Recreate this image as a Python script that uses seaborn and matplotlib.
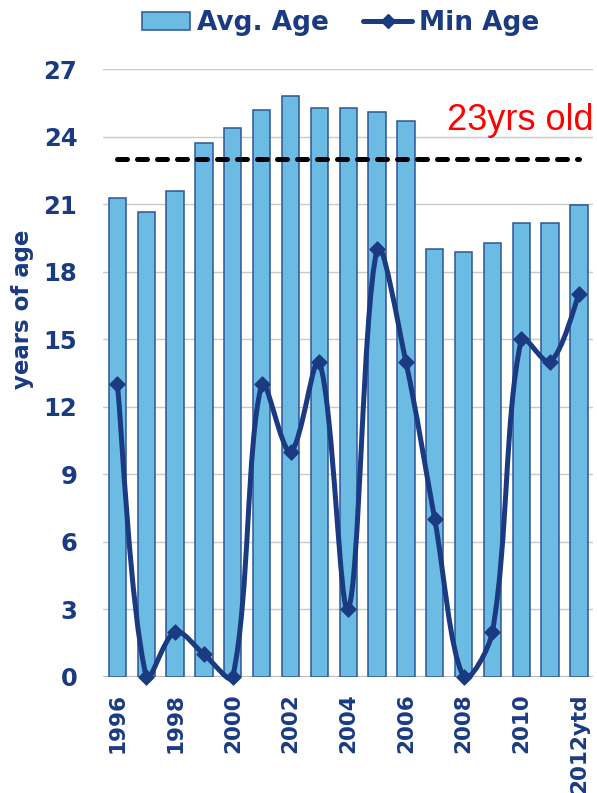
import numpy as np
import pandas as pd
import matplotlib
matplotlib.use("Agg")
import matplotlib.pyplot as plt
import seaborn as sns
from matplotlib.path import Path
from matplotlib.patches import PathPatch, Patch
from matplotlib.lines import Line2D

# ---- data ----
years = ["1996", "1997", "1998", "1999", "2000", "2001", "2002", "2003", "2004",
         "2005", "2006", "2007", "2008", "2009", "2010", "2011", "2012ytd"]
avg_age = [21.3, 20.65, 21.6, 23.75, 24.4, 25.2, 25.8, 25.3, 25.3,
           25.1, 24.7, 19.0, 18.9, 19.3, 20.15, 20.15, 20.95]
min_age = [13, 0, 2, 1, 0, 13, 10, 14, 3, 19, 14, 7, 0, 2, 15, 14, 17]
threshold = 23
threshold_label = "23yrs old"
y_ticks = [0, 3, 6, 9, 12, 15, 18, 21, 24, 27]

NAVY = "#1A3A82"
BAR = "#6CBBE3"
BAR_EDGE = "#2D5597"

sns.set_theme(style="white")
plt.rcParams["font.family"] = ["DejaVu Sans"]

fig = plt.figure(figsize=(5.97, 7.93), dpi=100)
ax = fig.add_axes([0.1725, 0.1465, 0.8215, 0.766])

df = pd.DataFrame({"year": years, "avg": avg_age, "min": min_age})

# gridlines
for t in y_ticks:
    ax.axhline(t, color="#C9C9C9" if t else "#BEBEBE", lw=1.0 if t else 1.6, zorder=0)

sns.barplot(data=df, x="year", y="avg", order=years, color=BAR, width=0.6,
            edgecolor=BAR_EDGE, linewidth=1.1, saturation=1, ax=ax, zorder=2)

ax.set_xlim(-0.5, 16.5)
ax.set_ylim(0, 27)

# threshold dashed line
ax.plot([0, 16], [threshold, threshold], color="black", lw=3.6,
        dashes=(2, 2), dash_capstyle="round", zorder=3)
ax.text(11.42, 24.3, threshold_label, color="#FF0000", fontsize=26,
        family="Liberation Sans", ha="left", va="baseline", zorder=5)

# smoothed line (Excel-like Bezier through the data points)
xs = np.arange(len(min_age), dtype=float)
ys = np.asarray(min_age, dtype=float)
n = len(xs)
P = np.column_stack([xs, ys])
S = ax.transData.transform(P)  # screen coords for segment-length weighting


def dist(a, b):
    return float(np.hypot(*(S[a] - S[b])))


verts = [tuple(P[0])]
codes = [Path.MOVETO]
for i in range(n - 1):
    i0 = max(i - 1, 0)
    i3 = min(i + 2, n - 1)
    d01, d12, d23 = dist(i0, i), dist(i, i + 1), dist(i + 1, i3)
    f1 = d12 / (d01 + d12) / 3 if d01 > 0 else 1 / 6
    f2 = d12 / (d12 + d23) / 3 if d23 > 0 else 1 / 6
    c1 = P[i] + (P[i + 1] - P[i0]) * f1
    c2 = P[i + 1] - (P[i3] - P[i]) * f2
    verts += [tuple(c1), tuple(c2), tuple(P[i + 1])]
    codes += [Path.CURVE4] * 3
ax.add_patch(PathPatch(Path(verts, codes), facecolor="none", edgecolor=NAVY,
                       lw=3.6, capstyle="round", joinstyle="round", zorder=4,
                       clip_on=False))
sns.scatterplot(x=xs, y=ys, marker="D", s=58, color=NAVY, edgecolor=NAVY,
                linewidth=1, ax=ax, zorder=5, clip_on=False, legend=False)

ax.set_xlim(-0.5, 16.5)
ax.set_ylim(0, 27)
ax.set_yticks(y_ticks)
ax.set_yticklabels([str(t) for t in y_ticks], fontsize=17.5, fontweight="bold",
                   color=NAVY)
ax.set_xticks(range(0, len(years), 2))
ax.set_xticklabels(years[::2], rotation=90, fontsize=15.5, fontweight="bold",
                   color=NAVY)
ax.tick_params(axis="y", length=0, pad=18.5)
ax.tick_params(axis="x", length=0, pad=12)
ax.set_xlabel("")
ax.set_ylabel("")
for s in ax.spines.values():
    s.set_visible(False)

fig.text(23 / 597, 0.61, "years of age", rotation=90, ha="center", va="center",
         fontsize=16.5, fontweight="bold", color=NAVY)

handles = [Patch(facecolor=BAR, edgecolor=BAR_EDGE, linewidth=1.1),
           Line2D([0], [0], color=NAVY, lw=3.6, marker="D", markersize=7.5)]
fig.legend(handles, ["Avg. Age", "Min Age"], loc="center",
           bbox_to_anchor=(0.57, 0.971), ncol=2, frameon=False,
           prop={"weight": "bold", "size": 19}, labelcolor=NAVY,
           handlelength=1.85, handleheight=0.65, handletextpad=0.25,
           columnspacing=1.3, borderpad=0.1)

fig.savefig("out.png", dpi=100)
